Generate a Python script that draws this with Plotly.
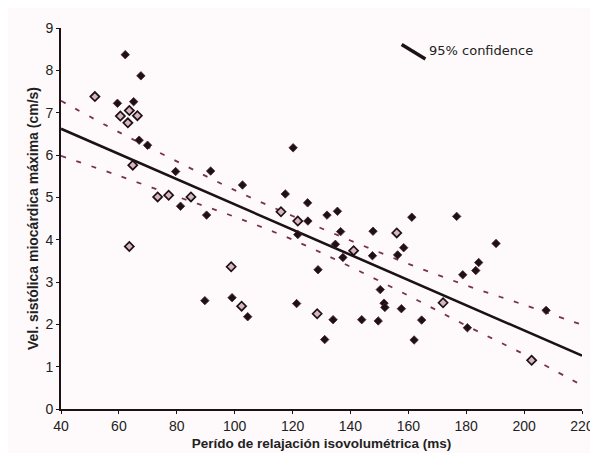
import plotly.graph_objects as go

# Filled diamonds
filled_x = [62.2, 67.6, 59.5, 65.1, 67.0, 69.9, 79.6, 91.7, 81.3, 90.3, 120.2, 102.7, 117.5, 125.2,
            131.9, 135.5, 125.3, 161.2, 176.7, 136.6, 147.8, 121.8, 134.8, 137.4, 147.6, 158.4,
            156.3, 128.8, 150.3, 99.1, 121.4, 151.6, 151.9, 157.6, 104.5, 134.0, 143.9, 149.6,
            131.1, 89.7, 190.3, 184.3, 183.3, 178.8, 164.6, 162.0, 180.4, 207.6]
filled_y = [8.37, 7.87, 7.22, 7.26, 6.35, 6.23, 5.61, 5.62, 4.79, 4.58, 6.17, 5.29, 5.08, 4.87,
            4.58, 4.67, 4.44, 4.53, 4.55, 4.19, 4.20, 4.12, 3.89, 3.58, 3.62, 3.81,
            3.64, 3.29, 2.82, 2.63, 2.49, 2.50, 2.40, 2.37, 2.18, 2.11, 2.11, 2.08,
            1.64, 2.56, 3.91, 3.46, 3.27, 3.17, 2.10, 1.63, 1.92, 2.33]

# Open diamonds
open_x = [51.7, 63.6, 60.5, 66.4, 63.1, 64.8, 73.4, 77.2, 84.9, 116.0, 121.8, 156.0, 141.1,
          98.8, 102.4, 128.5, 63.6, 172.0, 202.6]
open_y = [7.38, 7.05, 6.92, 6.93, 6.76, 5.76, 5.01, 5.05, 5.01, 4.66, 4.44, 4.16, 3.74,
          3.36, 2.43, 2.25, 3.84, 2.51, 1.15]

# Regression line and 95% confidence band
fit_x = [40, 220]
fit_y = [6.62, 1.26]
band_x = [40, 60, 80, 100, 120, 140, 160, 180, 200, 220]
band_upper = [7.28, 6.54, 5.85, 5.17, 4.56, 3.98, 3.43, 2.92, 2.46, 1.99]
band_lower = [5.98, 5.51, 5.02, 4.54, 4.00, 3.36, 2.68, 1.97, 1.29, 0.56]

x_ticks = [40, 60, 80, 100, 120, 140, 160, 180, 200, 220]
y_ticks = [0, 1, 2, 3, 4, 5, 6, 7, 8, 9]

legend_text = "95% confidence"
x_title = "Perído de relajación isovolumétrica (ms)"
y_title = "Vel. sistólica miocárdica máxima (cm/s)"

dash_color = "#7a3050"
dark = "#1c1216"

fig = go.Figure()
fig.add_trace(go.Scatter(x=band_x, y=band_upper, mode="lines",
                         line=dict(color=dash_color, width=1.8, dash="5px,11px"),
                         line_shape="spline", hoverinfo="skip"))
fig.add_trace(go.Scatter(x=band_x, y=band_lower, mode="lines",
                         line=dict(color=dash_color, width=1.8, dash="5px,11px"),
                         line_shape="spline", hoverinfo="skip"))
fig.add_trace(go.Scatter(x=fit_x, y=fit_y, mode="lines",
                         line=dict(color=dark, width=2.6)))
fig.add_trace(go.Scatter(x=filled_x, y=filled_y, mode="markers",
                         marker=dict(symbol="diamond", size=6.5, color=dark,
                                     line=dict(color="#4a2030", width=0.8))))
fig.add_trace(go.Scatter(x=open_x, y=open_y, mode="markers",
                         marker=dict(symbol="diamond", size=7, color="#d9b4c2",
                                     line=dict(color=dark, width=1.7))))

# legend mark
fig.add_shape(type="line", x0=157.7, y0=8.61, x1=165.9, y1=8.27,
              line=dict(color=dark, width=3.5))
fig.add_annotation(x=166.3, y=8.47, text=legend_text, showarrow=False,
                   xanchor="left", yanchor="middle",
                   font=dict(family="DejaVu Sans", size=13, color="#222"))

fig.update_layout(
    width=598, height=453,
    margin=dict(l=53, r=16, t=18, b=50),
    paper_bgcolor="#fefafb", plot_bgcolor="#fefafb",
    showlegend=False,
    font=dict(family="Liberation Sans, Arial", size=14, color="#222"),
)
fig.update_xaxes(range=[40, 220], tickvals=x_ticks, showgrid=False, zeroline=False,
                 showline=True, linecolor=dark, linewidth=2,
                 ticks="outside", ticklen=3, tickcolor=dark,
                 tickfont=dict(size=14, color="#222"),
                 title=dict(text="<b>" + x_title + "</b>", font=dict(size=13.5, color="#222"),
                            standoff=6))
fig.update_yaxes(range=[0, 9], tickvals=y_ticks, showgrid=False, zeroline=False,
                 showline=True, linecolor=dark, linewidth=2,
                 ticks="outside", ticklen=3, tickcolor=dark,
                 tickfont=dict(size=14, color="#222"),
                 title=dict(text="<b>" + y_title + "</b>", font=dict(size=14, color="#222"),
                            standoff=4))

fig.write_html("out.html")
